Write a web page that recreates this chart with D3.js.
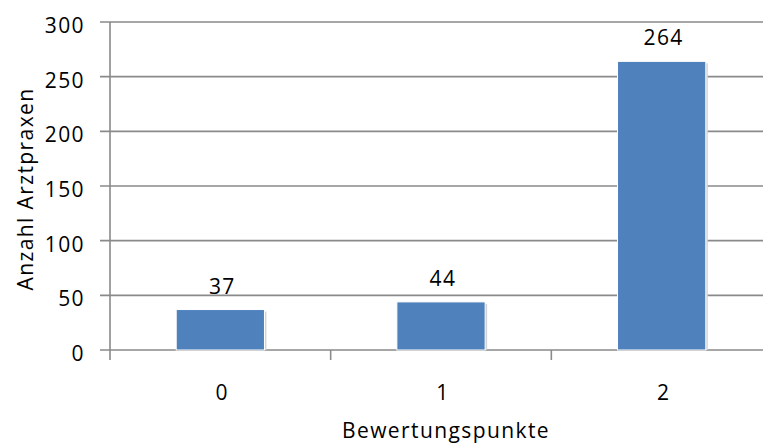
<!DOCTYPE html>
<html>
<head>
<meta charset="utf-8">
<script src="https://cdn.jsdelivr.net/npm/d3@7"></script>
<style>
  html, body { margin: 0; padding: 0; background: #fff; }
  svg text { font-family: "Open Sans", "Noto Sans", sans-serif; fill: #000; font-size: 21px; letter-spacing: 1.4px; }
</style>
</head>
<body>
<svg id="chart" width="763" height="446"></svg>
<script>
// Anzahl Arztpraxen je Bewertungspunkte
const categories = ["0", "1", "2"];
const values = [37, 44, 264];
const yTicks = [0, 50, 100, 150, 200, 250, 300];
const xTitle = "Bewertungspunkte";
const yTitle = "Anzahl Arztpraxen";

const svg = d3.select("#chart");
const plot = { left: 110, right: 772, top: 22, bottom: 350 };

const x = d3.scaleBand().domain(categories).range([plot.left, plot.right]).paddingInner(0.6).paddingOuter(0.3);
const xOuter = d3.scaleBand().domain(categories).range([plot.left, plot.right]);
const y = d3.scaleLinear().domain([0, 300]).range([plot.bottom, plot.top]);

const gridColor = "#8a8a8a";

// horizontal gridlines with short ticks left of the axis
svg.append("g").selectAll("line").data(yTicks).join("line")
  .attr("x1", plot.left - 10).attr("x2", plot.right)
  .attr("y1", d => y(d)).attr("y2", d => y(d))
  .attr("stroke", gridColor).attr("stroke-width", 1.6);

// y tick labels
svg.append("g").selectAll("text").data(yTicks).join("text")
  .attr("x", 85).attr("y", d => y(d) + 11)
  .attr("text-anchor", "end").text(d => d);

// vertical axis line
svg.append("line")
  .attr("x1", plot.left).attr("x2", plot.left)
  .attr("y1", plot.top).attr("y2", plot.bottom + 10)
  .attr("stroke", gridColor).attr("stroke-width", 1.6);

// category boundary ticks below the axis
svg.append("g").selectAll("line").data(categories.slice(1)).join("line")
  .attr("x1", d => xOuter(d)).attr("x2", d => xOuter(d))
  .attr("y1", plot.bottom).attr("y2", plot.bottom + 10)
  .attr("stroke", gridColor).attr("stroke-width", 1.6);

const bars = svg.append("g").selectAll("g").data(values).join("g");

// soft shadow at the right edge of each bar
bars.append("rect")
  .attr("x", (d, i) => x(categories[i]) + 2)
  .attr("y", d => y(d) + 2)
  .attr("width", x.bandwidth())
  .attr("height", d => plot.bottom - y(d) - 2)
  .attr("fill", "#d4d4d4");

bars.append("rect")
  .attr("x", (d, i) => x(categories[i]))
  .attr("y", d => y(d))
  .attr("width", x.bandwidth())
  .attr("height", d => plot.bottom - y(d))
  .attr("fill", "#4f81bd")
  .attr("stroke", "#ffffff").attr("stroke-width", 1);

// value labels
bars.append("text")
  .attr("x", (d, i) => x(categories[i]) + x.bandwidth() / 2 + 2)
  .attr("y", d => y(d) - 16)
  .attr("text-anchor", "middle")
  .text(d => d);

// category labels
svg.append("g").selectAll("text").data(categories).join("text")
  .attr("x", d => x(d) + x.bandwidth() / 2 + 2).attr("y", 400)
  .attr("text-anchor", "middle").text(d => d);

// axis titles
svg.append("text").attr("x", 446).attr("y", 438)
  .attr("text-anchor", "middle").text(xTitle);
svg.append("text")
  .attr("transform", "translate(33, 189) rotate(-90)")
  .attr("text-anchor", "middle").text(yTitle);
</script>
</body>
</html>
